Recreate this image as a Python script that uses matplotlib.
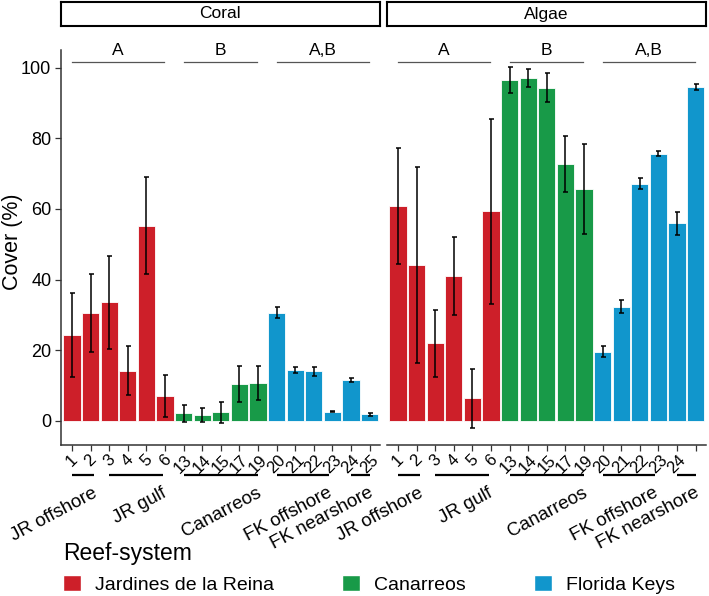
import matplotlib
matplotlib.use("Agg")
import matplotlib.pyplot as plt
from matplotlib.patches import Patch

plt.rcParams['font.family'] = ['Liberation Sans', 'DejaVu Sans']

# site labels and means/SE
coral_labels = ['1', '2', '3', '4', '5', '6', '13', '14', '15', '17', '19',
                '20', '21', '22', '23', '24', '25']
coral_mean = [24.3, 30.5, 33.6, 14.2, 55.3, 7.1, 2.2, 1.7, 2.5, 10.5, 10.8,
              30.7, 14.4, 14.1, 2.6, 11.6, 1.9]
coral_err = [11.8, 11.1, 13.1, 6.9, 13.8, 5.9, 2.4, 2.0, 3.0, 5.2, 4.8,
             1.5, 0.8, 1.3, 0.2, 0.7, 0.4]

algae_labels = ['1', '2', '3', '4', '5', '6', '13', '14', '15', '17', '19',
                '20', '21', '22', '23', '24', '']
algae_mean = [60.8, 44.1, 22.0, 41.0, 6.4, 59.4, 96.5, 97.1, 94.3, 72.7, 65.6,
              19.6, 32.3, 67.2, 75.7, 55.9, 94.6]
algae_err = [16.5, 27.7, 9.5, 11.0, 8.3, 26.2, 3.6, 2.6, 4.1, 8.0, 12.8,
             1.6, 1.8, 1.5, 0.7, 3.2, 0.8]

site_system = ['Jardines de la Reina'] * 6 + ['Canarreos'] * 5 + ['Florida Keys'] * 6
systems = ['Jardines de la Reina', 'Canarreos', 'Florida Keys']
colors = {'Jardines de la Reina': '#CD1F29', 'Canarreos': '#189A48', 'Florida Keys': '#1196CC'}

# reef-zone groups under the x axis (bar index spans)
group_names = ['JR offshore', 'JR gulf', 'Canarreos', 'FK offshore', 'FK nearshore']
group_start = [1, 3, 7, 12, 16]
group_end = [2.2, 5.9, 11, 14.8, 17]

# significance letters above the bars
sig_letters = ['A', 'B', 'A,B']
sig_start = [1, 7, 12]
sig_end = [5.95, 10.95, 16.95]

W, H = 709, 596
fig = plt.figure(figsize=(W / 100, H / 100), dpi=100)

panels = [('Coral', coral_labels, coral_mean, coral_err, 61),
          ('Algae', algae_labels, algae_mean, algae_err, 387)]

ybot, ytop = 445, 50
for i, (name, labels, mean, err, x0) in enumerate(panels):
    ax = fig.add_axes([x0 / W, 1 - ybot / H, 319 / W, (ybot - ytop) / H])
    pos = list(range(1, len(mean) + 1))
    ax.bar(pos, mean, width=0.92, color=[colors[s] for s in site_system],
           edgecolor='white', linewidth=0.6, zorder=2)
    ax.errorbar(pos, mean, yerr=err, fmt='none', ecolor='black', elinewidth=1.1,
                capsize=1.8, capthick=1.1, zorder=3)
    ax.set_xlim(0.41, 17.56)
    ax.set_ylim(-6.8, 105)
    ax.set_xticks(pos)
    ax.set_xticklabels(labels, rotation=45, ha='center', va='top', fontsize=12)
    for s in ['top', 'right']:
        ax.spines[s].set_visible(False)
    ax.spines['bottom'].set_color('#333333')
    ax.spines['bottom'].set_linewidth(1.1)
    ax.tick_params(axis='x', length=4, width=0.9, color='#333333', pad=1)
    if i == 0:
        ax.set_yticks([0, 20, 40, 60, 80, 100])
        ax.tick_params(axis='y', length=4, width=0.9, color='#333333',
                       labelsize=13, pad=3)
        ax.spines['left'].set_color('#333333')
        ax.spines['left'].set_linewidth(1.1)
    else:
        ax.spines['left'].set_visible(False)
        ax.set_yticks([])

    for letter, a, b in zip(sig_letters, sig_start, sig_end):
        ax.plot([a, b], [101.5, 101.5], color='#555555', lw=0.9, clip_on=False)
        ax.text((a + b) / 2, 102.8, letter, ha='center', va='bottom', fontsize=12.5)

    for g, a, b in zip(group_names, group_start, group_end):
        ax.plot([a, b], [-15.3, -15.3], color='black', lw=1.6, clip_on=False,
                solid_capstyle='butt')
        ax.text(b - 0.1, -18.0, g, rotation=28, ha='right', va='top',
                rotation_mode='anchor', fontsize=13.5)

    # facet strip
    sax = fig.add_axes([(x0 - 0.5) / W, 1 - 26 / H, 319 / W, 24 / H])
    sax.set_xticks([])
    sax.set_yticks([])
    for sp in sax.spines.values():
        sp.set_linewidth(1.5)
        sp.set_color('black')
    sax.text(0.5, 0.5, name, ha='center', va='center', fontsize=12.5,
             transform=sax.transAxes)

fig.text(13 / W, 1 - 242 / H, 'Cover (%)', rotation=90, ha='center',
         va='center', fontsize=15.5)

handles = [Patch(facecolor=colors[s], edgecolor='white', label=s) for s in systems]
leg = fig.legend(handles=handles, title='Reef-system', ncol=3, frameon=False,
                 loc='upper left', bbox_to_anchor=(63 / W, 1 - 542 / H),
                 fontsize=14, title_fontsize=16.5, handlelength=0.9,
                 handleheight=0.9, handletextpad=0.75, columnspacing=3.5,
                 borderpad=0, borderaxespad=0, alignment='left')

fig.savefig('out.png', dpi=100)
